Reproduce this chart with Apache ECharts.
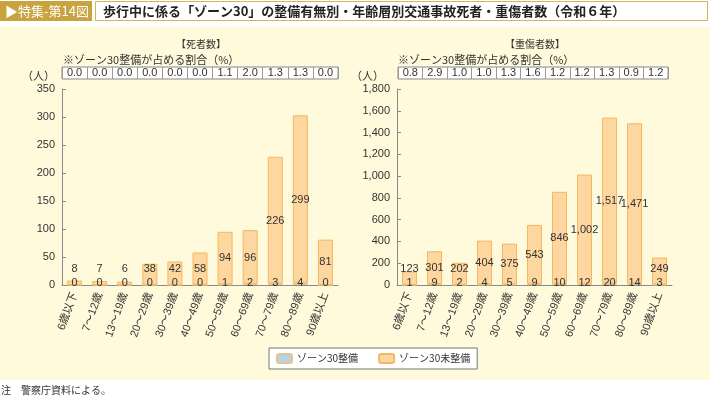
<!DOCTYPE html>
<html>
<head>
<meta charset="utf-8">
<script src="https://cdn.jsdelivr.net/npm/echarts@6/dist/echarts.min.js"></script>
<style>
  html, body { margin: 0; padding: 0; background: #fff; }
  #chart { width: 710px; height: 399px; }
</style>
</head>
<body>
<div id="chart"></div>
<script>
// 年齢層
const ages = ['6歳以下', '7～12歳', '13～19歳', '20～29歳', '30～39歳', '40～49歳', '50～59歳', '60～69歳', '70～79歳', '80～89歳', '90歳以上'];

// 死者数
const deathZone = [0, 0, 0, 0, 0, 0, 1, 2, 3, 4, 0];
const deathNon = [8, 7, 6, 38, 42, 58, 94, 96, 226, 299, 81];
const deathPct = [0.0, 0.0, 0.0, 0.0, 0.0, 0.0, 1.1, 2.0, 1.3, 1.3, 0.0];

// 重傷者数
const injZone = [1, 9, 2, 4, 5, 9, 10, 12, 20, 14, 3];
const injNon = [123, 301, 202, 404, 375, 543, 846, 1002, 1517, 1471, 249];
const injPct = [0.8, 2.9, 1.0, 1.0, 1.3, 1.6, 1.2, 1.2, 1.3, 0.9, 1.2];

const NUM_FONT = '"Liberation Sans", "Noto Sans CJK JP", sans-serif';
const JP_FONT = '"Noto Sans CJK JP", sans-serif';
const TXT = '#333';
const AXIS = '#8a8a8a';
const PLOT_H = 196;

// ラベル位置：棒の中央、ただし低い棒は最低16px上
function nonData(non, zone, max) {
  const k = PLOT_H / max;
  return non.map((v, i) => {
    const segC = zone[i] * k + v * k / 2;
    const target = Math.max((v + zone[i]) * k / 2, 16);
    return { value: v, label: { offset: [0, -(target - segC)] } };
  });
}

const chart = echarts.init(document.getElementById('chart'));

function barAxes(idx, max, interval, nameRight) {
  return {
    x: {
      type: 'category', gridIndex: idx, data: ages,
      axisLine: { lineStyle: { color: AXIS } },
      axisTick: { inside: true, length: 4, lineStyle: { color: AXIS } },
      axisLabel: { interval: 0, rotate: 70, fontSize: 11, margin: 8, color: TXT, fontFamily: NUM_FONT }
    },
    y: {
      type: 'value', gridIndex: idx, min: 0, max: max, interval: interval,
      name: '（人）', nameLocation: 'end', nameGap: 8,
      nameTextStyle: { color: TXT, fontSize: 11, fontFamily: JP_FONT, align: 'right', padding: [0, nameRight, 0, 0] },
      axisLine: { show: true, lineStyle: { color: AXIS } },
      axisTick: { show: true, inside: true, length: 4, lineStyle: { color: AXIS } },
      splitLine: { show: false },
      axisLabel: {
        fontSize: 11, margin: 7, color: TXT, fontFamily: NUM_FONT,
        formatter: v => v.toLocaleString('en-US')
      }
    }
  };
}

function tableAxes(idx, pct) {
  return {
    x: {
      type: 'category', gridIndex: idx, data: pct.map(p => p.toFixed(1)),
      axisLine: { show: false }, axisTick: { show: false },
      splitLine: { show: true, lineStyle: { color: '#999' } },
      axisLabel: { inside: true, margin: 6, verticalAlign: 'middle', interval: 0, fontSize: 11, color: TXT, fontFamily: NUM_FONT }
    },
    y: { type: 'value', gridIndex: idx, show: false, min: 0, max: 1 }
  };
}

const a0 = barAxes(0, 350, 50, 7);
const a1 = barAxes(1, 1800, 200, 13);
const t0 = tableAxes(2, deathPct);
const t1 = tableAxes(3, injPct);

const zoneStyle = { color: '#b3d3e6', borderColor: '#e7c28a', borderWidth: 1 };
const nonStyle = { color: '#fdd6a0', borderColor: '#f5b760', borderWidth: 1 };

function series(idx, zone, non, max) {
  return [
    {
      name: 'ゾーン30整備', type: 'bar', xAxisIndex: idx, yAxisIndex: idx, stack: 's' + idx,
      barWidth: 15, itemStyle: zoneStyle, data: zone,
      label: { show: true, position: 'insideBottom', distance: 0, offset: [0, 3], fontSize: 11, color: TXT, fontFamily: NUM_FONT }
    },
    {
      name: 'ゾーン30未整備', type: 'bar', xAxisIndex: idx, yAxisIndex: idx, stack: 's' + idx,
      barWidth: 15, itemStyle: nonStyle, data: nonData(non, zone, max),
      label: {
        show: true, position: 'inside', fontSize: 11, color: TXT, fontFamily: NUM_FONT,
        formatter: p => p.value.toLocaleString('en-US')
      }
    }
  ];
}

chart.setOption({
  animation: false,
  textStyle: { fontFamily: JP_FONT },
  graphic: [
    { type: 'rect', shape: { x: 0, y: 27, width: 710, height: 353 }, style: { fill: '#fffadb' }, z: -10 },
    { type: 'rect', shape: { x: 0, y: 1, width: 92, height: 20 }, style: { fill: '#c9a43e' } },
    { type: 'rect', shape: { x: 95.5, y: 1.5, width: 612, height: 19 }, style: { fill: '#fff', stroke: '#d4b45a', lineWidth: 1 } },
    { type: 'text', x: 5, y: 11, style: { text: '▶特集-第14図', fill: '#fff', font: '13px "Noto Sans CJK JP"', verticalAlign: 'middle' } },
    { type: 'text', x: 103, y: 11, style: { text: '歩行中に係る「ゾーン30」の整備有無別・年齢層別交通事故死者・重傷者数（令和６年）', fill: '#222', font: 'bold 13px "Noto Sans CJK JP"', verticalAlign: 'middle' } },
    { type: 'text', x: 201, y: 44, style: { text: '【死者数】', fill: TXT, font: '10px "Noto Sans CJK JP"', align: 'center', verticalAlign: 'middle' } },
    { type: 'text', x: 535, y: 44, style: { text: '【重傷者数】', fill: TXT, font: '10px "Noto Sans CJK JP"', align: 'center', verticalAlign: 'middle' } },
    { type: 'text', x: 63, y: 60, style: { text: '※ゾーン30整備が占める割合（%）', fill: TXT, font: '11px "Noto Sans CJK JP"', verticalAlign: 'middle' } },
    { type: 'text', x: 398, y: 60, style: { text: '※ゾーン30整備が占める割合（%）', fill: TXT, font: '11px "Noto Sans CJK JP"', verticalAlign: 'middle' } },
    { type: 'text', x: 1, y: 390, style: { text: '注　警察庁資料による。', fill: TXT, font: '10px "Noto Sans CJK JP"', verticalAlign: 'middle' } }
  ],
  legend: {
    left: 269, top: 348,
    data: ['ゾーン30整備', 'ゾーン30未整備'],
    backgroundColor: '#fff', borderColor: '#777', borderWidth: 1,
    padding: [5, 7], itemGap: 20, itemWidth: 15, itemHeight: 9,
    textStyle: { fontSize: 10, color: TXT, fontFamily: JP_FONT }
  },
  grid: [
    { left: 62, top: 89, width: 276, height: PLOT_H },
    { left: 397, top: 89, width: 275, height: PLOT_H },
    { left: 62, top: 67, width: 276, height: 12, show: true, backgroundColor: '#fff', borderColor: '#888', borderWidth: 1 },
    { left: 398, top: 67, width: 270, height: 12, show: true, backgroundColor: '#fff', borderColor: '#888', borderWidth: 1 }
  ],
  xAxis: [a0.x, a1.x, t0.x, t1.x],
  yAxis: [a0.y, a1.y, t0.y, t1.y],
  series: [...series(0, deathZone, deathNon, 350), ...series(1, injZone, injNon, 1800)]
});
</script>
</body>
</html>
